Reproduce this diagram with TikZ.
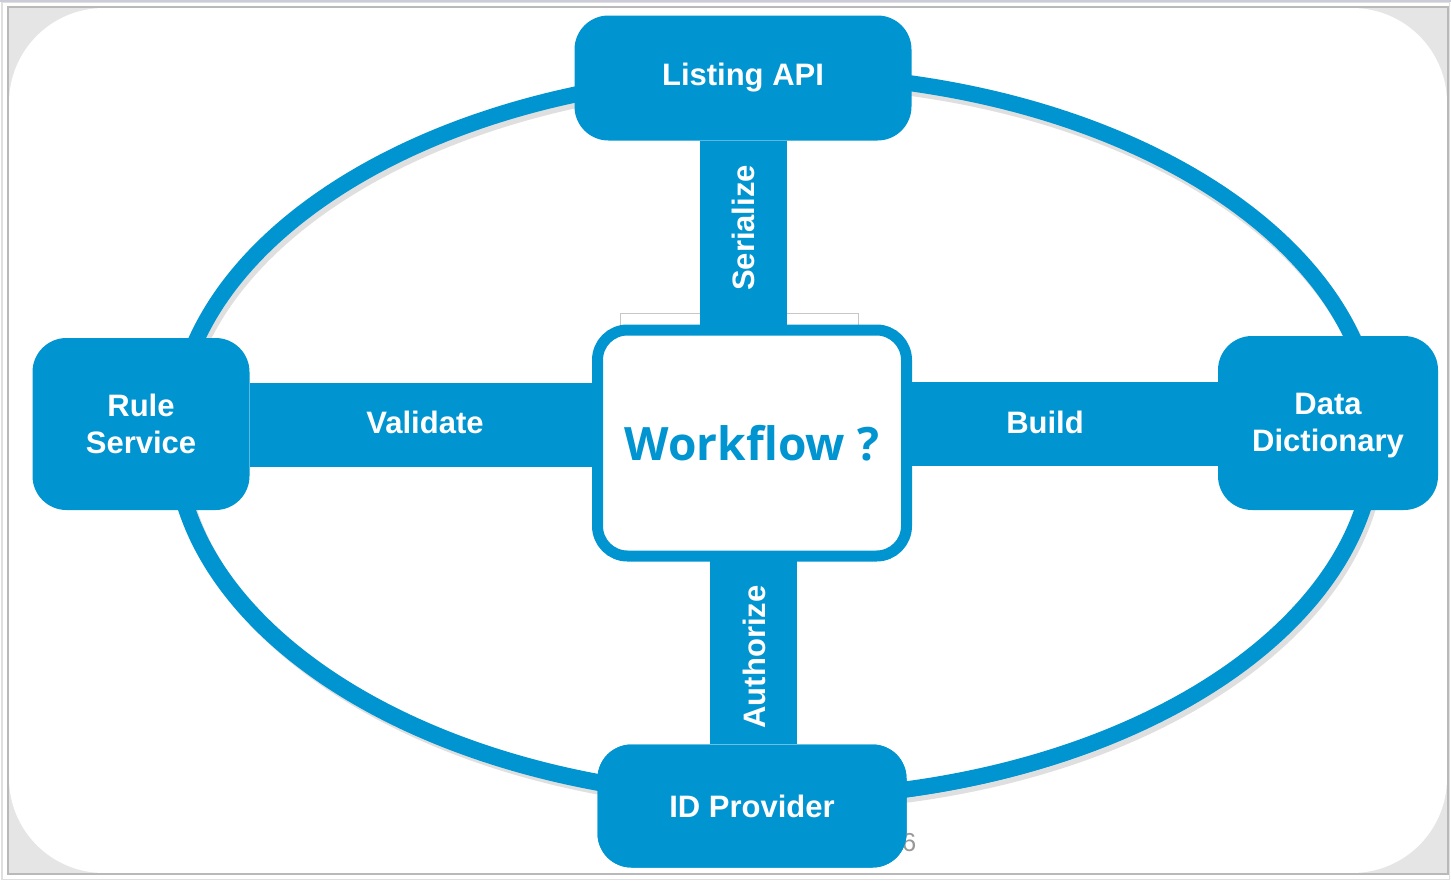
\documentclass[tikz,border=0pt]{standalone}
\usepackage{fontspec}
\setmainfont{Liberation Sans}
\newfontfamily\wffont{Open Sans}
\definecolor{brand}{RGB}{0,148,209}
\begin{document}
\begin{tikzpicture}[x=1pt,y=-1pt,
  blockbox/.style={fill=brand, rounded corners=34, inner sep=0pt, text=white,
    font=\fontsize{31}{37}\selectfont\bfseries, align=center},
  band/.style={draw=brand, line width=#1},
  bandlabel/.style={text=white, font=\fontsize{31}{37}\selectfont\bfseries, inner sep=0pt}]
\useasboundingbox (0,0) rectangle (1451,881);
% slide frame
\fill[white] (0,0) rectangle (1451,881);
\draw[gray!25, line width=1.5] (2,2) rectangle (1449.5,879.5);
\draw[blue!15!gray!35, line width=2] (0,1) -- (1451,1);
\fill[gray!20] (8,7) rectangle (1448,874);
\fill[white, rounded corners=95] (9,8) rectangle (1447,873);
\draw[gray!55, line width=1.5] (8,7) rectangle (1448,874);
% ring
\draw[gray!25, line width=16] (778,441) ellipse [x radius=600, y radius=362];
\draw[brand, line width=16] (775,436) ellipse [x radius=600, y radius=362];
\draw[brand, line width=3] (773,438) ellipse [x radius=605, y radius=367];
% nodes
\node[blockbox, minimum width=337, minimum height=125] (api) at (743,78) {Listing API};
\node[blockbox, minimum width=217, minimum height=172] (rule) at (141,424) {Rule\\Service};
\node[blockbox, minimum width=220, minimum height=174] (dict) at (1328,423) {};
\node[blockbox, minimum width=309, minimum height=123] (idp) at (752,806) {};
% gray box behind workflow
\draw[gray!45, line width=1] (620,330) -- (620,313) -- (858,313) -- (858,330);
% bands
\draw[band=87] ([xshift=0.5]api.south) -- ([xshift=0.5]api.south |- 0,328);
\draw[band=84] ([yshift=-1]rule.east) -- ([yshift=-1]rule.east -| 596,0);
\draw[band=84] ([yshift=-1]dict.west) -- ([yshift=-1]dict.west -| 908,0);
\draw[band=87] ([xshift=1]idp.north) -- ([xshift=1]idp.north |- 0,558);
% workflow box
\node[draw=brand, line width=11, fill=white, rounded corners=30, minimum width=309, minimum height=226, inner sep=0pt,
  text=brand, font=\wffont\fontsize{46}{52}\selectfont\bfseries] (wf) at (752,443) {Workflow ?};
% node texts
\node[text=white, font=\fontsize{31}{37}\selectfont\bfseries, align=center, inner sep=0pt] (ldict) at ([yshift=-3]dict.center) {Data\\Dictionary};
% band labels
\node[bandlabel, rotate=90] (lser) at (743,228) {Serialize};
\node[bandlabel] (lval) at (425,422) {Validate};
\node[bandlabel] (lbld) at (1045,422) {Build};
\node[bandlabel, rotate=90] (laut) at (754,657) {Authorize};
% page number (partly hidden)
\node[text=gray!80, font=\fontsize{26}{30}\selectfont, inner sep=0pt] (pg) at (909,843) {6};
\node[blockbox, minimum width=309, minimum height=123] (idp2) at (752,806) {ID Provider};
\end{tikzpicture}
\end{document}
